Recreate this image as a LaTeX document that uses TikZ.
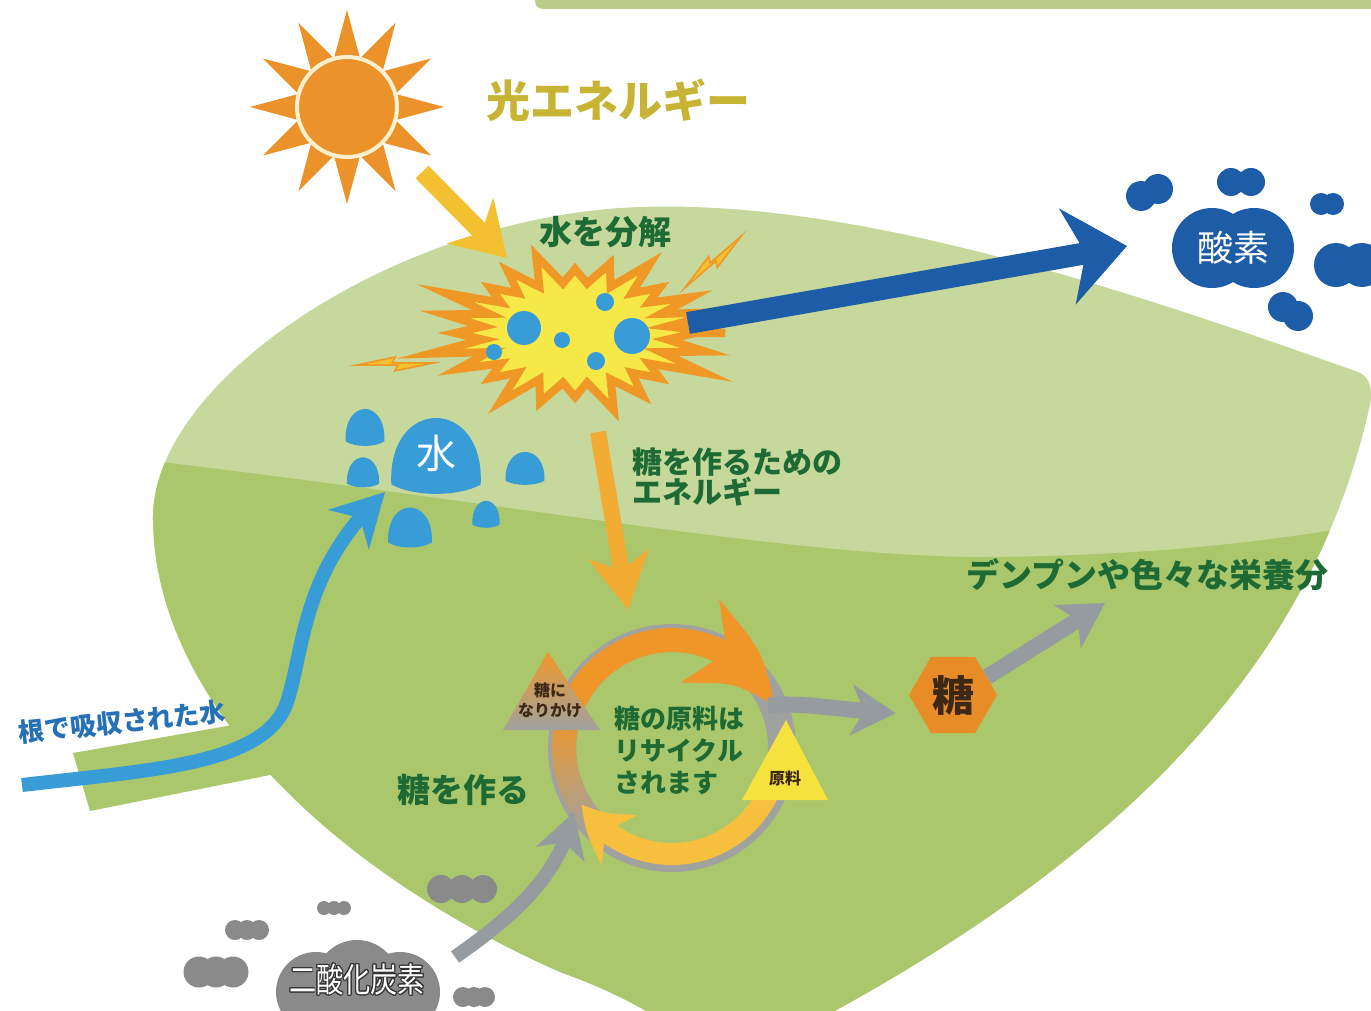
\documentclass[tikz,border=0pt]{standalone}
\usepackage{fontspec}
\newfontfamily\jp{Noto Sans CJK JP}
\usepackage{xcolor}
\usepackage{contour}
\contourlength{0.6pt}
\usepackage{tikz}
\usetikzlibrary{arrows.meta,bending,calc,shapes.geometric}

\definecolor{leaflight}{RGB}{198,216,155}
\definecolor{leafdark}{RGB}{171,199,107}
\definecolor{bargreen}{RGB}{186,204,138}
\definecolor{sunorange}{RGB}{236,146,42}
\definecolor{suncream}{RGB}{250,240,205}
\definecolor{raygold}{RGB}{242,192,48}
\definecolor{burstyellow}{RGB}{246,232,70}
\definecolor{burstorange}{RGB}{240,152,38}
\definecolor{waterblue}{RGB}{56,156,214}
\definecolor{oxyblue}{RGB}{29,93,168}
\definecolor{energyorange}{RGB}{242,172,52}
\definecolor{cycorange}{RGB}{240,150,40}
\definecolor{cycyellow}{RGB}{246,192,62}
\definecolor{ringgray}{RGB}{160,162,160}
\definecolor{arrgray}{RGB}{150,155,160}
\definecolor{co2gray}{RGB}{138,138,138}
\definecolor{hexorange}{RGB}{232,140,40}
\definecolor{rawyellow}{RGB}{246,226,60}
\definecolor{txtgreen}{RGB}{30,106,52}
\definecolor{txtgold}{RGB}{200,180,52}
\definecolor{txtbrown}{RGB}{60,40,20}
\definecolor{rootblue}{RGB}{38,112,182}

% outline of the leaf (pixel units, y pointing down)
\newcommand{\leafoutline}{(1358,372)
  .. controls (1100,280) and (850,200) .. (640,207)
  .. controls (400,215) and (150,380) .. (153,520)
  .. controls (155,700) and (330,870) .. (560,972)
  .. controls (610,990) and (650,1010) .. (690,1040)
  -- (780,1040)
  .. controls (1150,850) and (1320,640) .. (1371,400)
  .. controls (1372,385) and (1368,376) .. cycle}

\begin{document}
\begin{tikzpicture}[
  x=0.5pt, y=-0.5pt,
  lbl/.style={font=\jp\bfseries\fontsize{16.5}{19}\selectfont, text=txtgreen, inner sep=0pt},
  small/.style={font=\jp\bfseries\fontsize{8}{10}\selectfont, text=txtbrown, align=center, inner sep=0pt},
  sunarr/.style={raygold, line width=9pt, -{Stealth[length=26pt, width=32pt, inset=8pt]}},
  oxyarr/.style={oxyblue, line width=11pt, -{Stealth[length=30pt, width=48pt, inset=9pt]}},
  energy/.style={energyorange, line width=8pt, -{Stealth[length=28pt, width=30pt, inset=8pt]}},
  rootarr/.style={waterblue, line width=7pt, -{Stealth[length=26pt, width=28pt, inset=8pt]}},
  grayarr/.style={arrgray, line width=8pt, -{Stealth[length=22pt, width=25pt, inset=6pt]}}
]
  \useasboundingbox (0,0) rectangle (1371,1011);
  \clip (0,0) rectangle (1371,1011);
  \fill[white] (0,0) rectangle (1371,1011);

  % green bar at the top
  \fill[bargreen, rounded corners=4pt] (535,-40) rectangle (1400,9);

  % leaf: light upper half, darker lower half, stem
  \fill[leaflight] \leafoutline;
  \begin{scope}
    \clip \leafoutline;
    \fill[leafdark] (100,455) .. controls (500,500) and (800,560) .. (1000,557)
      .. controls (1200,554) and (1300,535) .. (1400,520)
      -- (1400,1100) -- (100,1100) -- cycle;
  \end{scope}
  \fill[leafdark] (73,753) -- (250,722) -- (300,740) -- (300,775) -- (275,774) -- (90,811) -- cycle;

  % sun
  \coordinate (sun) at (347,107);
  \foreach \a in {0,30,...,330}
    \fill[sunorange] ($(sun)+(\a:97)$) -- ($(sun)+(\a+14:52)$) -- ($(sun)+(\a-14:52)$) -- cycle;
  \filldraw[fill=sunorange, draw=suncream, line width=2pt] (sun) circle[radius=50];

  % burst where water is split
  \coordinate (boom) at (575,333);
  \filldraw[fill=burstyellow, draw=burstorange, line width=4pt, line join=miter]
    ($(boom)+(150,0)$)
    \foreach \k in {0,...,23} {
      -- ($(boom)+({93*cos(\k*15+7.5)},{-50*sin(\k*15+7.5)})$)
      -- ($(boom)+({150*(1-0.1*mod(\k*7,3))*cos((\k+1)*15)},{-80*(1-0.1*mod(\k*7,3))*sin((\k+1)*15)})$)
    } -- cycle;
  \foreach \x/\y/\r in {524/328/17, 632/336/18, 605/302/9, 562/340/8, 494/352/8, 596/361/9}
    \fill[waterblue] (\x,\y) circle[radius=\r];

  % sparks
  \foreach \x/\y/\r in {395/364/-3, 713/262/38} {
    \begin{scope}[shift={(\x,\y)}, rotate=\r]
      \filldraw[fill=raygold, draw=burstorange, line width=0.8pt]
        (-38,3) -- (0,-7) -- (-3,-1) -- (38,-3) -- (0,7) -- (3,1) -- cycle;
    \end{scope}
  }

  % light onto the burst
  \coordinate (sunR) at (422,172);
  \coordinate (boomNW) at (507,258);
  \draw[sunarr] (sunR) -- (boomNW);

  % oxygen
  \foreach \xa/\ya/\xb/\yb/\r in {1141/196/1158/189/15, 1231/182/1251/182/14, 1321/204/1333/204/11,
      1336/265/1362/265/22, 1283/307/1298/316/15, 1212/248/1254/248/40} {
    \fill[oxyblue] (\xa,\ya) circle[radius=\r];
    \fill[oxyblue] (\xb,\yb) circle[radius=\r];
  }
  \node[font=\jp\fontsize{18}{20}\selectfont, text=white] (oxy) at (1233,248) {酸素};
  \coordinate (boomE) at (688,323);
  \coordinate (oxyW) at (1127,246);
  \draw[oxyarr] (boomE) -- (oxyW);

  % water drops
  \foreach \x/\y/\w/\h in {436/455/92/76, 365/427/40/37, 363/472/33/30, 410/527/45/40, 486/514/28/27, 525/468/40/33} {
    \begin{scope}[shift={(\x,\y)}, xscale=\w/2.06, yscale=\h/1.54]
      \fill[waterblue] (-1,0.6) .. controls (-1.1,-1.2) and (1.1,-1.2) .. (1,0.6)
        .. controls (0.5,0.85) and (-0.5,0.85) .. cycle;
    \end{scope}
  }
  \node[font=\jp\fontsize{20}{22}\selectfont, text=white] (water) at (436,453) {水};

  % water taken up by the roots
  \coordinate (root) at (22,785);
  \coordinate (wtip) at (385,492);
  \draw[rootarr] (root) .. controls (150,770) and (262,765) .. (286,705)
    .. controls (305,650) and (300,570) .. (wtip);
  \node[lbl, text=rootblue, font=\jp\bfseries\fontsize{13}{15}\selectfont, rotate=6] (rootlbl) at (122,722) {根で吸収された水};

  % energy down to the cycle
  \coordinate (boomS) at (598,432);
  \coordinate (cycN) at (628,610);
  \draw[energy] (boomS) -- (cycN);

  % sugar-making cycle
  \coordinate (cyc) at (672,748);
  \draw[ringgray, line width=14pt] (cyc) circle[radius=55pt];
  \foreach \i in {0,...,13} {
    \pgfmathtruncatemacro\p{\i*100/13}
    \draw[cycorange!\p!ringgray, line width=12pt]
      ($(cyc)+(230-5*\i:54pt)$) arc[start angle=230-5*\i, end angle=224-5*\i, radius=54pt];
  }
  \draw[cycorange, line width=12pt, -{Stealth[length=50pt, width=44pt, inset=14pt, bend]}]
    ($(cyc)+(161:54pt)$) arc[start angle=161, end angle=22, radius=54pt];
  \draw[cycyellow, line width=11pt, -{Stealth[length=26pt, width=30pt, inset=8pt, bend]}]
    ($(cyc)+(-18:53pt)$) arc[start angle=-18, end angle=-148, radius=53pt];

  \shade[top color=cycorange, bottom color=ringgray] (548,652) -- (600,730) -- (503,730) -- cycle;
  \node[small] (half) at (550,700) {糖に\\なりかけ};
  \fill[rawyellow] (786,720) -- (828,800) -- (742,800) -- cycle;
  \node[small] (raw) at (785,778) {原料};

  % sugar and what it becomes
  \node[regular polygon, regular polygon sides=6, minimum size=44pt, inner sep=0pt,
        fill=hexorange, font=\jp\bfseries\fontsize{21}{23}\selectfont, text=txtbrown] (sugar) at (953,695) {糖};
  \coordinate (cycR) at (768,705);
  \draw[grayarr, shorten >=12pt] (cycR) .. controls (810,702) and (845,712) .. (sugar.210);
  \coordinate (nutr) at (1105,603);
  \draw[grayarr] (sugar.28) -- (nutr);

  % carbon dioxide
  \foreach \x/\y/\d/\r in {216/972/17/15.5, 247/930/12/10, 334/908/10/7, 462/889/21/14, 474/997/11/10} {
    \fill[co2gray] (\x-\d,\y) circle[radius=\r];
    \fill[co2gray] (\x,\y) circle[radius=\r];
    \fill[co2gray] (\x+\d,\y) circle[radius=\r];
  }
  \fill[co2gray] (316,992) circle[radius=40] (357,982) circle[radius=42] (400,992) circle[radius=40];
  \node[font=\jp\fontsize{17}{19}\selectfont, text=white, xscale=0.8] (co2) at (357,980) {\contour{black!80}{二酸化炭素}};
  \coordinate (co2E) at (455,957);
  \coordinate (cycSW) at (574,812);
  \draw[grayarr, line width=7pt] (co2E) .. controls (515,915) and (560,875) .. (cycSW);

  % labels
  \node[font=\jp\bfseries\fontsize{22}{24}\selectfont, text=txtgold] (light) at (618,100) {光エネルギー};
  \node[lbl] (split) at (605,232) {水を分解};
  \node[lbl, font=\jp\bfseries\fontsize{15}{15}\selectfont, align=left, anchor=north west] (enlbl) at (632,447) {糖を作るための\\エネルギー};
  \node[lbl, font=\jp\bfseries\fontsize{13}{16}\selectfont, align=left, anchor=west] (recyc) at (614,750) {糖の原料は\\リサイクル\\されます};
  \node[lbl] (make) at (463,790) {糖を作る};
  \node[lbl] (starch) at (1147,575) {デンプンや色々な栄養分};
\end{tikzpicture}
\end{document}
